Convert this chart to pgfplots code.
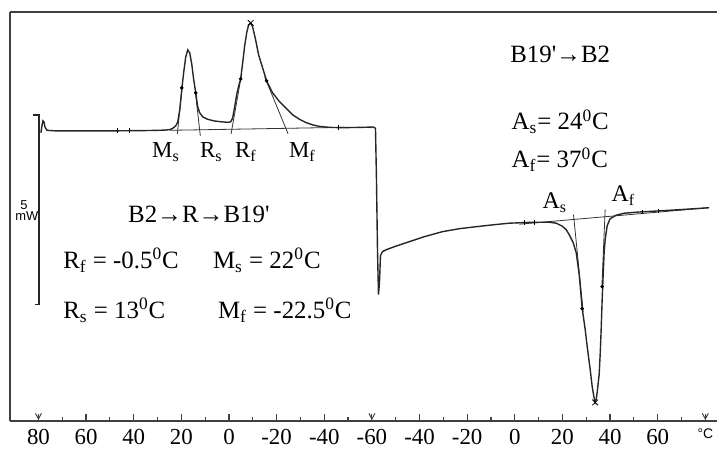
\documentclass[border=0pt]{standalone}
\usepackage{fontspec}
\setmainfont{Liberation Serif}[Ligatures=TeXOff]
\setsansfont{Liberation Sans}
\usepackage{pgfplots}
\pgfplotsset{compat=1.18}
\usepackage{pgfplotstable}

% DSC trace (px = horizontal position, py = vertical position from top)
\pgfplotstableread{
px py
41 133
42 126
43 121
44 122
45 127
47 130.5
55 131
80 131
118 131
150 130.7
165 130.3
170 129.8
173 128.5
176 126
178 122
180 110
182 90
184 72
186 57
188 50
190 53
192 64
194 80
196 93
198 107
200 113
203 117
208 119.5
215 121.2
222 122
228 122.5
231 122
233 118
235 107
237 95
239 86
241 79
243 63
245 46
247 33
249 25
251 23
253 27
256 40
259 55
263 68
267 81
273 93
280 102
287 109
293 115
300 119.5
307 123
314 125.3
320 126.6
327 127.3
333 127.7
345 127.8
360 127.6
374 127.2
376 128.5
377 180
378 250
379 295
380 283
381 256
383 252
387 250
395 247
410 242
425 237
443 232
460 229
477 227
495 225
510 223.5
530 222.7
550 222.5
557 223.5
563 226.5
567 230
570 235
574 243
577 253
580 275
583 309
586 330
588 347
591 370
593 387
595 399
596 403
597 400
598 393
600 375
601 355
602 330
603 300
604 275
605 252
606 240
608 226
611 219
617 215.5
625 213.5
640 212.3
660 211.2
680 210
700 208.7
710 208
}\dsc

\begin{document}
\begin{tikzpicture}
\begin{axis}[
  scale only axis,
  width=354bp, height=204.75bp,
  xmin=10, xmax=718, ymin=29, ymax=438.5,
  axis x line*=box, axis y line*=left,
  axis line style={line width=1bp, color=black!75},
  xtick={38.5,86.2,133.9,181.6,229.3,277,324.7,372.4,420.1,467.8,515.5,563.2,610.9,658.6,706.3},
  xticklabels={80,60,40,20,0,-20,-40,-60,-40,-20,0,20,40,60,{\sffamily\fontsize{7}{8}\selectfont\raisebox{4bp}{°C}}},
  minor x tick num=1,
  xtick pos=left,
  ytick=\empty,
  tick align=inside,
  major tick length=3.5bp, minor tick length=2bp,
  every tick/.style={line width=0.6bp, color=black!75},
  xticklabel style={font=\fontsize{11.5}{12}\selectfont, inner sep=1bp, yshift=-2.5bp},
  clip=false,
]
% bounding region of the whole figure
\path (axis cs:0,0) rectangle (axis cs:718,451);

% construction lines
\addplot[line width=0.4bp, black!80] coordinates {(170,320.5) (345,323.5)};
\addplot[line width=0.4bp, black!80] coordinates {(177.6,317) (182.6,366)};
\addplot[line width=0.4bp, black!80] coordinates {(195.5,360) (200.6,315)};
\addplot[line width=0.4bp, black!80] coordinates {(231.4,317) (242,377)};
\addplot[line width=0.4bp, black!80] coordinates {(265,374) (288.5,317)};
\addplot[line width=0.4bp, black!80] coordinates {(520,226.5) (710,243)};
\addplot[line width=0.4bp, black!80] coordinates {(574.3,236) (584,139)};
\addplot[line width=0.4bp, black!80] coordinates {(606,241) (602.7,164)};

% main trace
\addplot[line width=0.7bp, black!85] table[x=px, y expr=451-\thisrow{py}] {\dsc};

% analysis markers
\addplot[only marks, mark=|, mark size=1.2bp, mark options={line width=0.5bp, black}] coordinates {
(118,320) (130,320) (339,323.3) (525,228) (535,228.5) (643,238.8) (659,239.8)};
\addplot[only marks, mark=*, mark size=0.7bp, black] coordinates {
(182,363) (196,358) (241,372) (267,370) (583,142) (603,164)};
\addplot[only marks, mark=x, mark size=2bp, mark options={line width=0.4bp}, black] coordinates {
(251,428) (596,48)};

% scale bar
\draw[line width=0.7bp, black!85] (axis cs:33,336) -- (axis cs:39,336) -- (axis cs:39,146) -- (axis cs:35,146);
\node[font=\sffamily\fontsize{6.5}{7}\selectfont, inner sep=0] at (axis cs:24,246) {5};
\node[font=\sffamily\fontsize{6.5}{7}\selectfont, inner sep=0] at (axis cs:27,235) {mW};

% arrow ticks
\draw[line width=0.5bp, black!75] (axis cs:35.5,37) -- (axis cs:38.5,31.5) -- (axis cs:41.5,37);
\draw[line width=0.5bp, black!75] (axis cs:369.4,37) -- (axis cs:372.4,31.5) -- (axis cs:375.4,37);
\draw[line width=0.5bp, black!75] (axis cs:703.3,37) -- (axis cs:706.3,31.5) -- (axis cs:709.3,37);

% peak labels
\node[anchor=base west, inner sep=0, font=\fontsize{11.5}{13}\selectfont] at (axis cs:152,293) {M\textsubscript{s}};
\node[anchor=base west, inner sep=0, font=\fontsize{11.5}{13}\selectfont] at (axis cs:200,293) {R\textsubscript{s}};
\node[anchor=base west, inner sep=0, font=\fontsize{11.5}{13}\selectfont] at (axis cs:235,293) {R\textsubscript{f}};
\node[anchor=base west, inner sep=0, font=\fontsize{11.5}{13}\selectfont] at (axis cs:289,293) {M\textsubscript{f}};
\node[anchor=base west, inner sep=0, font=\fontsize{12}{14}\selectfont] at (axis cs:543,242) {A\textsubscript{s}};
\node[anchor=base west, inner sep=0, font=\fontsize{12}{14}\selectfont] at (axis cs:612,249) {A\textsubscript{f}};

% annotations
\node[anchor=base, inner sep=0, font=\fontsize{12.5}{14}\selectfont] at (axis cs:561,388) {B19'→B2};
\node[anchor=base west, inner sep=0, font=\fontsize{12.5}{14}\selectfont] at (axis cs:512,321) {A\textsubscript{s}= 24\textsuperscript{0}C};
\node[anchor=base west, inner sep=0, font=\fontsize{12.5}{14}\selectfont] at (axis cs:512,283) {A\textsubscript{f}= 37\textsuperscript{0}C};
\node[anchor=base west, inner sep=0, font=\fontsize{12.5}{14}\selectfont] at (axis cs:128,228) {B2→R→B19'};
\node[anchor=base west, inner sep=0, font=\fontsize{12.5}{14}\selectfont] at (axis cs:63,182) {R\textsubscript{f} = -0.5\textsuperscript{0}C};
\node[anchor=base west, inner sep=0, font=\fontsize{12.5}{14}\selectfont] at (axis cs:213,182) {M\textsubscript{s} = 22\textsuperscript{0}C};
\node[anchor=base west, inner sep=0, font=\fontsize{12.5}{14}\selectfont] at (axis cs:63,132) {R\textsubscript{s} = 13\textsuperscript{0}C};
\node[anchor=base west, inner sep=0, font=\fontsize{12.5}{14}\selectfont] at (axis cs:218,132) {M\textsubscript{f} = -22.5\textsuperscript{0}C};
\end{axis}
\end{tikzpicture}
\end{document}
